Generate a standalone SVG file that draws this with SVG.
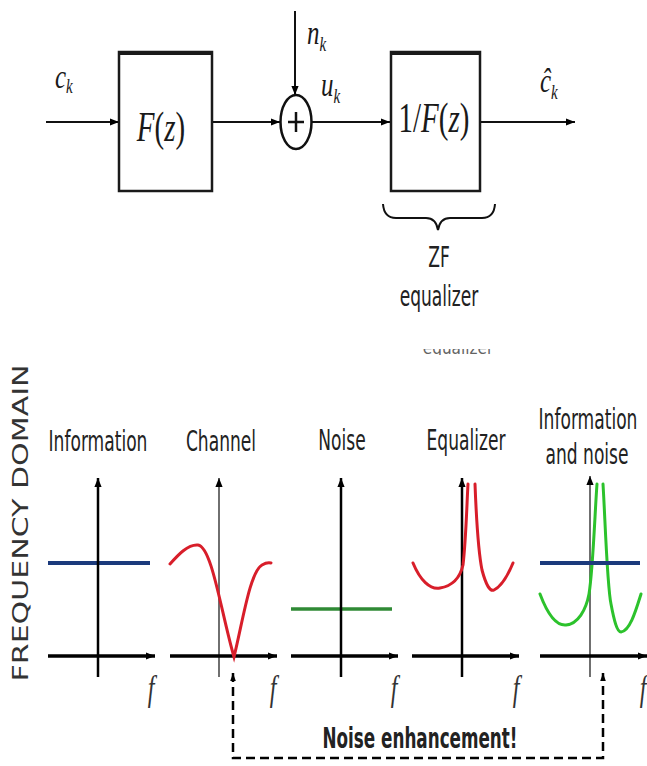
<svg xmlns="http://www.w3.org/2000/svg" width="647" height="766" viewBox="0 0 647 766">
<defs>
<style>
.ln{stroke:#111;stroke-width:2;fill:none}
.box{stroke:#1a1a1a;stroke-width:2.5;fill:#fff}
.m{font-family:"Liberation Serif",serif;font-style:italic;font-size:25px;fill:#1a1a1a}
.mu{font-family:"Liberation Serif",serif;font-style:normal;font-size:29px;fill:#1a1a1a}
.sub{font-size:15px}
.t{font-family:"DejaVu Sans Condensed","DejaVu Sans",sans-serif;font-stretch:condensed;font-size:19px;fill:#222;text-anchor:middle}
.b{font-weight:bold}
.f{font-family:"Liberation Serif",serif;font-style:italic;font-size:24px;fill:#333;text-anchor:middle}
.ax{stroke:#000;stroke-width:3.5;fill:none}
.vax{stroke:#000;stroke-width:2.5;fill:none}
.vthin{stroke:#222;stroke-width:1.3;fill:none}
.red{stroke:#d81e2a;stroke-width:3;fill:none;stroke-linecap:round}
.blue{stroke:#1b3a7c;stroke-width:4;fill:none}
.grn{stroke:#2f8a35;stroke-width:3.5;fill:none}
.lgrn{stroke:#2cc22c;stroke-width:3;fill:none;stroke-linecap:round}
.dash{stroke:#000;stroke-width:2.5;fill:none;stroke-dasharray:9 5}
</style>
<marker id="ah" viewBox="0 0 10 10" refX="10" refY="5" markerWidth="9" markerHeight="9" markerUnits="userSpaceOnUse" orient="auto-start-reverse">
<path d="M0,1 L10,5 L0,9 z" fill="#000"/>
</marker>
<marker id="ahs" viewBox="0 0 10 10" refX="10" refY="5" markerWidth="8" markerHeight="8" markerUnits="userSpaceOnUse" orient="auto-start-reverse">
<path d="M0,1.5 L10,5 L0,8.5 z" fill="#000"/>
</marker>
<clipPath id="cut"><rect x="410" y="349" width="100" height="6"/></clipPath>
</defs>
<rect width="647" height="766" fill="#fff"/>

<g id="connectors">
<line class="ln" x1="46" y1="122" x2="119" y2="122" marker-end="url(#ah)"/>
<line class="ln" x1="212" y1="122" x2="280" y2="122" marker-end="url(#ah)"/>
<line class="ln" x1="295" y1="11" x2="295" y2="95" marker-end="url(#ah)"/>
<line class="ln" x1="312" y1="122" x2="390" y2="122" marker-end="url(#ah)"/>
<line class="ln" x1="480" y1="122" x2="575" y2="122" marker-end="url(#ah)"/>
<path class="dash" d="M233,673 L233,758 L603,758 L603,673" marker-start="url(#ahs)" marker-end="url(#ahs)"/>
</g>

<g id="label-ck">
<g transform="translate(55,88) scale(1,1.35)"><text class="m">c<tspan class="sub" dy="4">k</tspan></text></g>
</g>
<g id="node-Fz">
<rect class="box" x="119" y="52" width="93" height="139"/>
<line x1="118" y1="53" x2="213" y2="53" stroke="#1a1a1a" stroke-width="4"/>
<g transform="translate(161,141) scale(1,1.45)"><text class="mu" text-anchor="middle"><tspan font-style="italic">F</tspan>(<tspan font-style="italic">z</tspan>)</text></g>
</g>
<g id="node-sum">
<ellipse cx="296" cy="122" rx="15.5" ry="27" fill="#fff" stroke="#111" stroke-width="2.5"/>
<line x1="288" y1="122" x2="304" y2="122" stroke="#111" stroke-width="2.5"/>
<line x1="296" y1="112" x2="296" y2="132" stroke="#111" stroke-width="2.5"/>
</g>
<g id="label-nk">
<g transform="translate(307,44) scale(1,1.35)"><text class="m">n<tspan class="sub" dy="5">k</tspan></text></g>
</g>
<g id="label-uk">
<g transform="translate(321,96) scale(1,1.35)"><text class="m">u<tspan class="sub" dy="5">k</tspan></text></g>
</g>
<g id="node-invF">
<rect class="box" x="391" y="52" width="89" height="139"/>
<line x1="390" y1="53" x2="481" y2="53" stroke="#1a1a1a" stroke-width="4"/>
<g transform="translate(434,132) scale(1,1.45)"><text class="mu" text-anchor="middle">1/<tspan font-style="italic">F</tspan>(<tspan font-style="italic">z</tspan>)</text></g>
</g>
<g id="label-chat">
<g transform="translate(540,92) scale(1,1.35)"><text class="m">ĉ<tspan class="sub" dy="5">k</tspan></text></g>
</g>
<g id="zf-brace">
<path class="ln" stroke-width="2.5" d="M383,204 Q384,218 396,218 L426,218 Q436,218 438,230 Q440,218 450,218 L482,218 Q494,218 495,204"/>
<g transform="translate(439,267) scale(1,1.45)"><text class="t">ZF</text></g>
<g transform="translate(439,306) scale(1,1.45)"><text class="t">equalizer</text></g>
</g>
<g id="faint" clip-path="url(#cut)" opacity="0.7">
<text x="458" y="354" class="t" style="font-size:17px" fill="#333">equalizer</text>
</g>

<g id="freq-label">
<text transform="translate(28,523) rotate(-90)" font-family="'DejaVu Sans',sans-serif" font-size="22" fill="#333" text-anchor="middle" textLength="317" lengthAdjust="spacingAndGlyphs">FREQUENCY DOMAIN</text>
</g>

<g id="panel-information">
<g transform="translate(98,451) scale(1,1.45)"><text class="t">Information</text></g>
<line class="blue" x1="48" y1="563" x2="150" y2="563"/>
<line class="vax" x1="98" y1="677" x2="98" y2="478" marker-end="url(#ah)"/>
<line class="ax" x1="48" y1="656" x2="155" y2="656" marker-end="url(#ah)"/>
<g transform="translate(151,700) scale(1,1.45)"><text class="f">f</text></g>
</g>

<g id="panel-channel">
<g transform="translate(221,451) scale(1,1.45)"><text class="t">Channel</text></g>
<line class="vthin" x1="219" y1="677" x2="219" y2="478" marker-end="url(#ah)"/>
<line class="ax" x1="170" y1="656" x2="277" y2="656" marker-end="url(#ah)"/>
<path class="red" d="M170,564 C178,555 188,544 198,545 C212,547 221,612 234,657 C243,620 250,572 262,565 Q267,562 271,563"/>
<g transform="translate(273,700) scale(1,1.45)"><text class="f">f</text></g>
</g>

<g id="panel-noise">
<g transform="translate(342,450) scale(1,1.45)"><text class="t">Noise</text></g>
<line class="grn" x1="291" y1="609" x2="392" y2="609"/>
<line class="vax" x1="341" y1="677" x2="341" y2="478" marker-end="url(#ah)"/>
<line class="ax" x1="291" y1="656" x2="398" y2="656" marker-end="url(#ah)"/>
<g transform="translate(394,700) scale(1,1.45)"><text class="f">f</text></g>
</g>

<g id="panel-equalizer">
<g transform="translate(466,450) scale(1,1.45)"><text class="t">Equalizer</text></g>
<line class="vax" x1="462" y1="677" x2="462" y2="478" marker-end="url(#ah)"/>
<line class="ax" x1="412" y1="656" x2="519" y2="656" marker-end="url(#ah)"/>
<path class="red" d="M413,563 C420,580 430,590 440,588 C452,586 460,578 463,565 C466,540 467,500 468,484 M475,484 C476,510 478,550 482,570 C486,585 490,592 494,590 C502,586 508,575 513,563"/>
<g transform="translate(516,700) scale(1,1.45)"><text class="f">f</text></g>
</g>

<g id="panel-info-noise">
<g transform="translate(588,429) scale(1,1.45)"><text class="t">Information</text></g>
<g transform="translate(587,464) scale(1,1.45)"><text class="t">and noise</text></g>
<line class="vthin" x1="590" y1="677" x2="590" y2="476" marker-end="url(#ah)"/>
<line class="ax" x1="540" y1="656" x2="647" y2="656" marker-end="url(#ah)"/>
<path class="lgrn" d="M540,594 C546,610 555,626 566,625 C578,624 586,610 589,594 C593,570 595,510 597,484 M603,484 C605,515 607,585 611,604 C614,620 617,632 621,632 C630,631 636,610 641,594"/>
<line class="blue" x1="540" y1="563" x2="640" y2="563"/>
<g transform="translate(643,700) scale(1,1.45)"><text class="f">f</text></g>
</g>

<g id="label-noise-enh">
<g transform="translate(420,748) scale(1,1.45)"><text class="t b" textLength="195" lengthAdjust="spacingAndGlyphs">Noise enhancement!</text></g>
</g>
</svg>
